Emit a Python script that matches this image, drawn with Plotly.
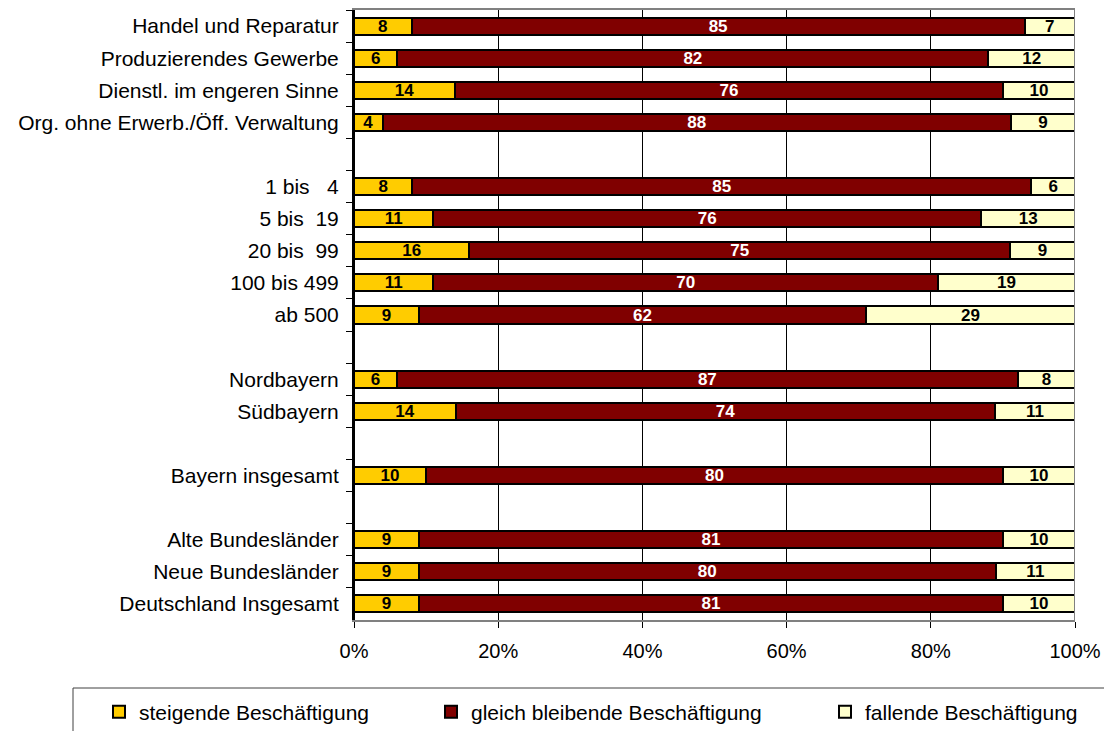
import plotly.graph_objects as go

# Row labels, top to bottom; blank rows separate the groups
categories = [
    "Handel und Reparatur",
    "Produzierendes Gewerbe",
    "Dienstl. im engeren Sinne",
    "Org. ohne Erwerb./Öff. Verwaltung",
    " ",
    "1 bis   4",
    "5 bis  19",
    "20 bis  99",
    "100 bis 499",
    "ab 500",
    "  ",
    "Nordbayern",
    "Südbayern",
    "   ",
    "Bayern insgesamt",
    "    ",
    "Alte Bundesländer",
    "Neue Bundesländer",
    "Deutschland Insgesamt",
]

steigend = [8, 6, 14, 4, None, 8, 11, 16, 11, 9, None, 6, 14, None, 10, None, 9, 9, 9]
gleich = [85, 82, 76, 88, None, 85, 76, 75, 70, 62, None, 87, 74, None, 80, None, 81, 80, 81]
fallend = [7, 12, 10, 9, None, 6, 13, 9, 19, 29, None, 8, 11, None, 10, None, 10, 11, 10]

series_names = ["steigende Beschäftigung", "gleich bleibende Beschäftigung", "fallende Beschäftigung"]
series_values = [steigend, gleich, fallend]
series_colors = ["#FFCC00", "#800000", "#FFFFCC"]
label_colors = ["#000000", "#FFFFFF", "#000000"]

FONT = "Liberation Sans, Arial, sans-serif"

fig = go.Figure()
legend_ids = ["legend2", "legend3", "legend4"]
for name, vals, col, tcol, lg in zip(series_names, series_values, series_colors, label_colors, legend_ids):
    fig.add_trace(go.Bar(
        y=categories,
        x=vals,
        orientation="h",
        name=name,
        legend=lg,
        marker=dict(color=col, line=dict(color="#000000", width=2)),
        text=["" if v is None else str(v) for v in vals],
        textposition="inside",
        insidetextanchor="middle",
        textangle=0,
        textfont=dict(family=FONT, size=17, color=tcol, weight="bold"),
        hoverinfo="skip",
    ))

# Pixel geometry of the plot area
W, H = 1104, 731
L, R, T, B = 354, 29, 10, 111
pw, ph = W - L - R, H - T - B


def px_x(p):
    return (p - L) / pw


def px_y(p):
    return (H - B - p) / ph


legend_common = dict(
    orientation="h", yanchor="middle", xanchor="left",
    font=dict(family=FONT, size=21, color="#000000"),
    bgcolor="rgba(0,0,0,0)", borderwidth=0, itemwidth=30,
)

fig.update_layout(
    width=W, height=H,
    margin=dict(l=L, r=R, t=T, b=B, autoexpand=False),
    barmode="stack",
    barnorm="percent",
    bargap=0.47,
    plot_bgcolor="#FFFFFF",
    paper_bgcolor="#FFFFFF",
    font=dict(family=FONT, size=21, color="#000000"),
    uniformtext=dict(minsize=17, mode="show"),
    showlegend=True,
    legend2=dict(x=px_x(99), y=px_y(712), **legend_common),
    legend3=dict(x=px_x(431), y=px_y(712), **legend_common),
    legend4=dict(x=px_x(825), y=px_y(712), **legend_common),
    xaxis=dict(
        range=[0, 100], dtick=20, ticksuffix="%",
        showgrid=True, gridcolor="#000000", gridwidth=1,
        showline=True, linecolor="#808080", linewidth=2, mirror=True,
        ticks="outside", ticklen=6, tickcolor="#000000",
        ticklabelstandoff=6,
        tickfont=dict(family=FONT, size=20),
        zeroline=False, fixedrange=True,
    ),
    yaxis=dict(
        categoryorder="array", categoryarray=categories,
        autorange="reversed",
        showline=True, linecolor="#000000", linewidth=2,
        ticks="outside", ticklen=6, tickcolor="#000000",
        tickson="boundaries",
        ticklabelstandoff=9,
        tickfont=dict(family=FONT, size=21),
        showgrid=False, fixedrange=True,
    ),
    shapes=[
        # right border of the plot area
        dict(type="line", xref="x", yref="paper", x0=100, x1=100, y0=0, y1=1,
             line=dict(color="#808080", width=2)),
        # left axis drawn on top in black
        dict(type="line", xref="paper", yref="paper", x0=0, x1=0, y0=0, y1=1,
             line=dict(color="#000000", width=2)),
        # legend frame
        dict(type="rect", xref="paper", yref="paper",
             x0=px_x(73), x1=px_x(1140), y0=px_y(688), y1=px_y(760),
             line=dict(color="#404040", width=1), fillcolor="rgba(0,0,0,0)"),
    ],
)

fig.write_html("out.html")
